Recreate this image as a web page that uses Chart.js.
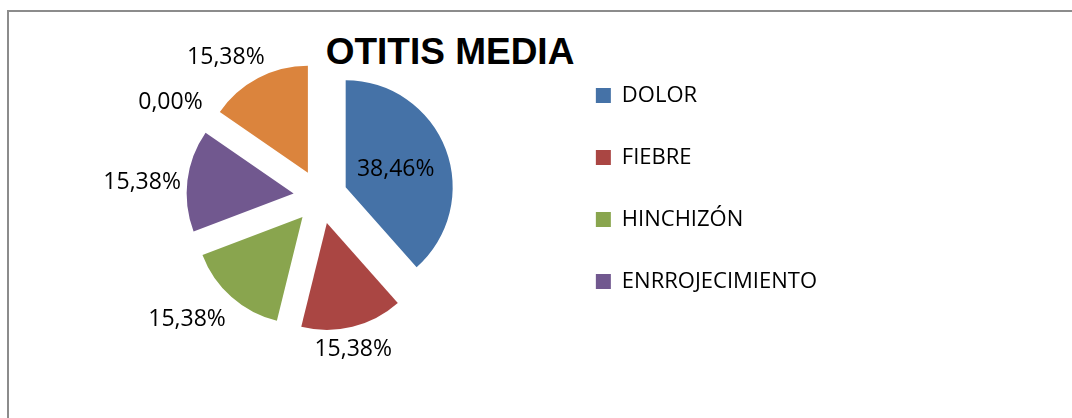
<!DOCTYPE html>
<html>
<head>
<meta charset="utf-8">
<script src="https://cdn.jsdelivr.net/npm/chart.js@4.4.1/dist/chart.umd.min.js"></script>
<style>
  html, body { margin: 0; padding: 0; background: #ffffff; width: 1072px; height: 418px; overflow: hidden; }
  #frame { position: absolute; left: 7px; top: 10px; width: 1200px; height: 600px; border: 2px solid #8c8c8c; box-sizing: border-box; }
  #title { position: absolute; left: 250px; width: 400px; top: 32.7px; text-align: center;
           font: bold 37px "Liberation Sans", Arial, sans-serif; line-height: 37px; color: #000; }
  #wrap { position: absolute; left: 0; top: 0; width: 1072px; height: 418px; }
</style>
</head>
<body>
<div id="frame"></div>
<div id="title">OTITIS MEDIA</div>
<div id="wrap"><canvas id="c" width="1072" height="418"></canvas></div>
<script>
// ---- data ----
const categories = ['DOLOR', 'FIEBRE', 'HINCHIZÓN', 'ENRROJECIMIENTO', 'Categoría 5', 'Categoría 6'];
const percentValues = [38.46, 15.38, 15.38, 15.38, 0.00, 15.38];
const sliceColors = ['#4572A7', '#AA4643', '#89A54E', '#71588F', '#4198AF', '#DB843D'];
const legendShown = 4; // the reference legend shows only the first four entries

// ---- styling / layout parameters ----
const EXPLODE_PX = 27;
const labelDist = [0.50, 1.20, 1.44, 1.42, 1.41, 1.33];   // x outer radius, from slice apex
const labelTurn = [0, 2, 7, -2.5, -2.5, -7.5];             // degrees

function fmtPct(v) { return v.toFixed(2).replace('.', ',') + '%'; }

const explodePlugin = {
  id: 'explode',
  afterDatasetUpdate(chart, args) {
    args.meta.data.forEach(el => {
      const m = (el.startAngle + el.endAngle) / 2;
      el.x += Math.cos(m) * EXPLODE_PX;
      el.y += Math.sin(m) * EXPLODE_PX;
    });
  }
};

const labelPlugin = {
  id: 'sliceLabels',
  afterDatasetsDraw(chart) {
    const meta = chart.getDatasetMeta(0);
    const ctx = chart.ctx;
    ctx.save();
    ctx.font = '23px "Open Sans"';
    ctx.fillStyle = '#000';
    ctx.textAlign = 'center';
    ctx.textBaseline = 'middle';
    meta.data.forEach((el, i) => {
      const m = (el.startAngle + el.endAngle) / 2 + labelTurn[i] * Math.PI / 180;
      const d = el.outerRadius * labelDist[i];
      ctx.fillText(fmtPct(percentValues[i]), el.x + Math.cos(m) * d, el.y + Math.sin(m) * d + 1);
    });
    ctx.restore();
  }
};

function draw() {
  new Chart(document.getElementById('c'), {
    type: 'pie',
    data: {
      labels: categories,
      datasets: [{ data: percentValues, backgroundColor: sliceColors, borderWidth: 0 }]
    },
    options: {
      responsive: false,
      devicePixelRatio: 1,
      animation: false,
      radius: 107,
      layout: { padding: { left: 85, top: 44.5, right: 245, bottom: 69 } },
      plugins: {
        tooltip: { enabled: false },
        title: { display: false },
        legend: {
          position: 'right',
          align: 'start',
          labels: {
            boxWidth: 15,
            boxHeight: 15,
            padding: 40,
            color: '#000',
            font: { family: 'Open Sans', size: 22 },
            filter: (item) => item.index < legendShown
          }
        }
      }
    },
    plugins: [explodePlugin, labelPlugin]
  });
}

Promise.all([
  document.fonts.load('23px "Open Sans"'),
  document.fonts.load('22px "Open Sans"'),
  document.fonts.load('bold 37px "Liberation Sans"')
]).then(draw, draw);
</script>
</body>
</html>
